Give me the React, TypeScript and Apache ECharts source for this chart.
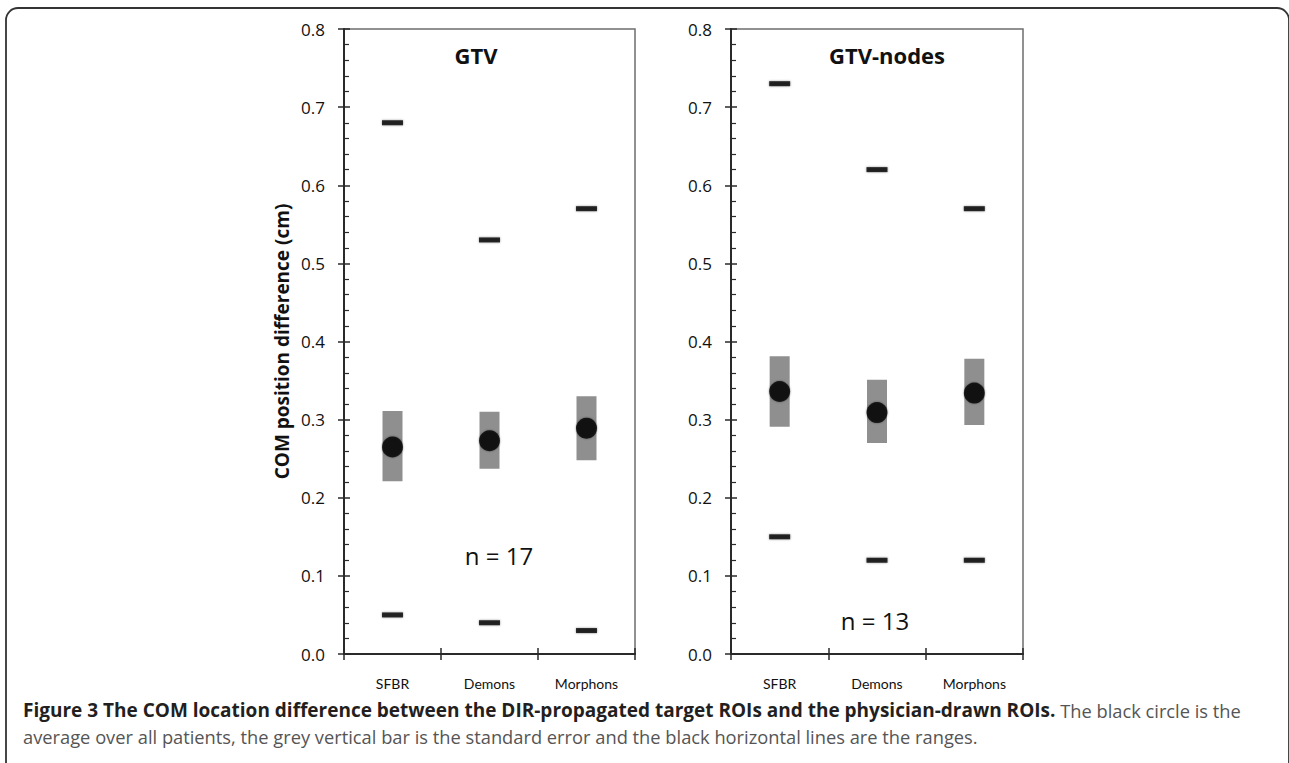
import React, { useEffect, useRef } from "react";
import * as echarts from "echarts";

const categories = ["SFBR", "Demons", "Morphons"];
const yTickValues = [0, 0.1, 0.2, 0.3, 0.4, 0.5, 0.6, 0.7, 0.8];

const gtvMean = [0.265, 0.273, 0.289];
const gtvSeLow = [0.221, 0.237, 0.248];
const gtvSeHigh = [0.311, 0.31, 0.33];
const gtvMax = [0.68, 0.53, 0.57];
const gtvMin = [0.05, 0.04, 0.03];

const nodesMean = [0.336, 0.309, 0.334];
const nodesSeLow = [0.291, 0.27, 0.293];
const nodesSeHigh = [0.381, 0.351, 0.378];
const nodesMax = [0.73, 0.62, 0.57];
const nodesMin = [0.15, 0.12, 0.12];

const panelTitles = ["GTV", "GTV-nodes"];
const panelN = ["n = 17", "n = 13"];
const yAxisTitle = "COM position difference (cm)";
const captionBold =
  "Figure 3 The COM location difference between the DIR-propagated target ROIs and the physician-drawn ROIs.";
const captionRest1 = " The black circle is the";
const captionLine2 =
  "average over all patients, the grey vertical bar is the standard error and the black horizontal lines are the ranges.";

const FONT = "'Open Sans', 'Noto Sans', sans-serif";
const CATFONT = "Lato, 'Open Sans', sans-serif";
const CAPFONT = "'Open Sans', 'Noto Sans', sans-serif";
const AXIS_COLOR = "#2a2a2a";

function makeX(gridIndex: number, inner: boolean) {
  return {
    type: "category",
    gridIndex,
    data: categories,
    position: "bottom",
    boundaryGap: true,
    axisLine: { show: !inner, lineStyle: { color: AXIS_COLOR, width: 2 } },
    axisTick: {
      show: true,
      alignWithLabel: false,
      interval: 0,
      inside: inner,
      length: 6,
      lineStyle: { color: AXIS_COLOR, width: 1.5 },
    },
    axisLabel: {
      show: !inner,
      interval: 0,
      margin: 22,
      fontSize: 14,
      color: "#111",
      fontFamily: CATFONT,
    },
    splitLine: { show: false },
  };
}

function makeY(gridIndex: number, inner: boolean, withName: boolean) {
  return {
    type: "value",
    gridIndex,
    position: "left",
    min: yTickValues[0],
    max: yTickValues[yTickValues.length - 1],
    interval: 0.1,
    name: withName ? yAxisTitle : "",
    nameLocation: "middle",
    nameGap: 53,
    nameTextStyle: {
      fontSize: 19,
      fontWeight: "bold",
      color: "#111",
      fontFamily: FONT,
    },
    axisLine: { show: !inner, lineStyle: { color: AXIS_COLOR, width: 2 } },
    axisTick: {
      show: true,
      inside: inner,
      length: 6,
      lineStyle: { color: AXIS_COLOR, width: 1.5 },
    },
    minorTick: {
      show: inner,
      splitNumber: 5,
      length: 5,
      lineStyle: { color: AXIS_COLOR, width: 1.2 },
    },
    axisLabel: {
      show: !inner,
      margin: 19,
      fontSize: 17,
      color: "#111",
      fontFamily: FONT,
      formatter: (v: number) => v.toFixed(1),
    },
    splitLine: { show: false },
    minorSplitLine: { show: false },
  };
}

function panelSeries(
  idx: number,
  mean: number[],
  lo: number[],
  hi: number[],
  mx: number[],
  mn: number[]
) {
  const xAxisIndex = idx * 2;
  const yAxisIndex = idx * 2;
  const markStyle = { color: "#000", shadowBlur: 2, shadowColor: "rgba(0,0,0,0.5)" };
  return [
    {
      type: "custom",
      xAxisIndex,
      yAxisIndex,
      z: 2,
      encode: { x: 0, y: [1, 2] },
      data: categories.map((c, i) => [i, lo[i], hi[i]]),
      renderItem: (params: any, api: any) => {
        const x = api.value(0);
        const pLo = api.coord([x, api.value(1)]);
        const pHi = api.coord([x, api.value(2)]);
        const w = 20;
        return {
          type: "rect",
          shape: { x: pLo[0] - w / 2, y: pHi[1], width: w, height: pLo[1] - pHi[1] },
          style: { fill: "#8f8f8f" },
        };
      },
    },
    {
      type: "scatter",
      xAxisIndex,
      yAxisIndex,
      z: 4,
      symbol: "circle",
      symbolSize: 21,
      itemStyle: markStyle,
      data: categories.map((c, i) => [c, mean[i]]),
    },
    {
      type: "scatter",
      xAxisIndex,
      yAxisIndex,
      z: 3,
      symbol: "rect",
      symbolSize: [21, 5],
      itemStyle: markStyle,
      data: categories.map((c, i) => [c, mx[i]]),
    },
    {
      type: "scatter",
      xAxisIndex,
      yAxisIndex,
      z: 3,
      symbol: "rect",
      symbolSize: [21, 5],
      itemStyle: markStyle,
      data: categories.map((c, i) => [c, mn[i]]),
    },
  ];
}

function centeredText(text: string, x: number, y: number, font: string) {
  return {
    type: "text",
    x,
    y,
    style: {
      text,
      font,
      fill: "#111",
      textAlign: "center",
      textVerticalAlign: "middle",
    },
  };
}

export default function App() {
  const ref = useRef<HTMLDivElement>(null);

  useEffect(() => {
    document.body.style.margin = "0";
    if (!ref.current) return;
    const chart = echarts.init(ref.current, null, { renderer: "svg" });

    const gridStyle = {
      show: true,
      borderColor: "#6e6e6e",
      borderWidth: 1.5,
      backgroundColor: "transparent",
      containLabel: false,
    };

    const option: any = {
      animation: false,
      backgroundColor: "#fff",
      grid: [
        { ...gridStyle, left: 344, top: 29, width: 291, height: 625 },
        { ...gridStyle, left: 731, top: 29, width: 292, height: 625 },
      ],
      xAxis: [makeX(0, false), makeX(0, true), makeX(1, false), makeX(1, true)],
      yAxis: [
        makeY(0, false, true),
        makeY(0, true, false),
        makeY(1, false, false),
        makeY(1, true, false),
      ],
      series: [
        ...panelSeries(0, gtvMean, gtvSeLow, gtvSeHigh, gtvMax, gtvMin),
        ...panelSeries(1, nodesMean, nodesSeLow, nodesSeHigh, nodesMax, nodesMin),
      ],
      graphic: [
        {
          type: "rect",
          shape: { x: 6, y: 8, width: 1283, height: 800, r: 12 },
          style: { fill: "none", stroke: "#333", lineWidth: 1.8 },
          silent: true,
        },
        centeredText(panelTitles[0], 476, 55, `bold 22px ${FONT}`),
        centeredText(panelTitles[1], 887, 55, `bold 22px ${FONT}`),
        centeredText(panelN[0], 499, 555, `24px ${FONT}`),
        centeredText(panelN[1], 875, 620, `24px ${FONT}`),
        {
          type: "text",
          x: 23,
          y: 710,
          style: {
            text: `{b|${captionBold}}{r|${captionRest1}}`,
            textVerticalAlign: "middle",
            rich: {
              b: { font: `bold 19px ${CAPFONT}`, fill: "#231f20", color: "#231f20" },
              r: { font: `18.3px ${CAPFONT}`, fill: "#555", color: "#555" },
            },
          },
        },
        {
          type: "text",
          x: 23,
          y: 736,
          style: {
            text: captionLine2,
            font: `18.3px ${CAPFONT}`,
            fill: "#555",
            textVerticalAlign: "middle",
          },
        },
      ],
    };

    chart.setOption(option);
    return () => chart.dispose();
  }, []);

  return <div ref={ref} style={{ width: 1289, height: 763 }} />;
}
